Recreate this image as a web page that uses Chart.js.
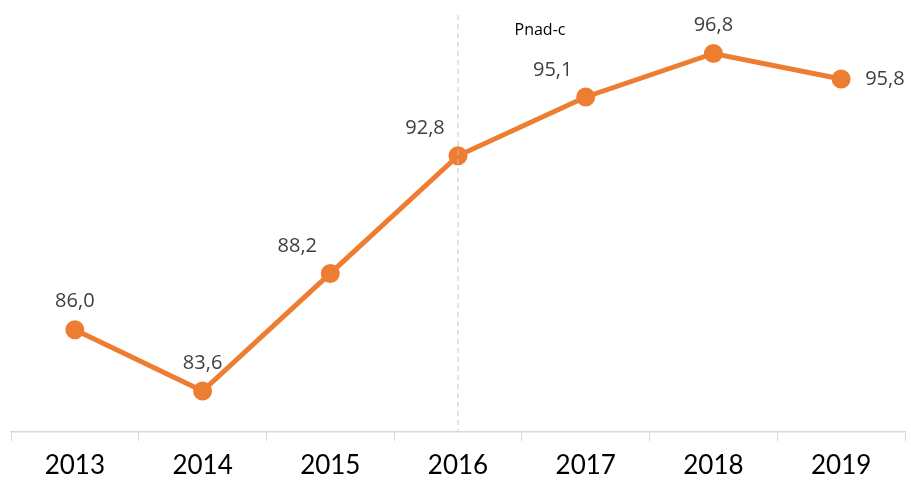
<!DOCTYPE html>
<html>
<head>
<meta charset="utf-8">
<script src="https://cdn.jsdelivr.net/npm/chart.js@4"></script>
<style>
  html, body { margin: 0; padding: 0; background: #fff; }
  #wrap { width: 911px; height: 486px; }
</style>
</head>
<body>
<div id="wrap"><canvas id="chart"></canvas></div>
<script>
// Data
const years = ["2013", "2014", "2015", "2016", "2017", "2018", "2019"];
const values = [86.0, 83.6, 88.2, 92.8, 95.1, 96.8, 95.8];
const labelSide = ["top", "top", "left", "left", "left", "top", "right"];
const breakIndex = 3;
const breakLabel = "Pnad-c";

const orange = "#ED7D31";

// Value labels + dashed break line
const annotate = {
  id: "annotate",
  afterDatasetsDraw(chart) {
    const c = chart.ctx;
    const x = chart.scales.x;
    const area = chart.chartArea;

    // dashed line at the series break
    const bx = x.getPixelForValue(breakIndex);
    c.save();
    c.strokeStyle = "#c8c8c8";
    c.lineWidth = 1;
    c.setLineDash([5, 4]);
    c.beginPath();
    c.moveTo(bx, 15);
    c.lineTo(bx, area.bottom);
    c.stroke();
    c.restore();

    c.save();
    c.fillStyle = "#000";
    c.font = "16px 'Open Sans', sans-serif";
    c.textAlign = "center";
    c.textBaseline = "middle";
    c.fillText(breakLabel, 540, 30);
    c.restore();

    // point labels
    const meta = chart.getDatasetMeta(0);
    c.save();
    c.fillStyle = "#404040";
    c.font = "20px 'Open Sans', sans-serif";
    c.textBaseline = "middle";
    meta.data.forEach((pt, i) => {
      const txt = values[i].toFixed(1).replace(".", ",");
      let tx = pt.x, ty = pt.y;
      if (labelSide[i] === "top") { c.textAlign = "center"; ty = pt.y - 28; }
      if (labelSide[i] === "left") { c.textAlign = "center"; tx = pt.x - 33; ty = pt.y - 27; }
      if (labelSide[i] === "right") { c.textAlign = "left"; tx = pt.x + 24; }
      c.fillText(txt, tx, ty);
    });
    c.restore();
  }
};

new Chart(document.getElementById("chart"), {
  type: "line",
  data: {
    labels: years,
    datasets: [{
      data: values,
      borderColor: orange,
      backgroundColor: orange,
      borderWidth: 5,
      pointRadius: 7,
      pointHoverRadius: 7,
      tension: 0
    }]
  },
  options: {
    responsive: true,
    maintainAspectRatio: false,
    animation: false,
    layout: { autoPadding: false, padding: { left: 11, right: 6, top: 10, bottom: 0 } },
    plugins: { legend: { display: false }, tooltip: { enabled: false } },
    scales: {
      x: {
        offset: true,
        afterFit(scale) {
          scale.paddingLeft = 0;
          scale.paddingRight = 0;
          scale.height = 54;
        },
        grid: {
          offset: true,
          drawOnChartArea: false,
          drawTicks: true,
          tickLength: 9,
          color: "#d9d9d9"
        },
        border: { color: "#d9d9d9", width: 1.5 },
        ticks: {
          color: "#000",
          padding: 9,
          font: { family: "Lato, sans-serif", size: 26 }
        }
      },
      y: {
        display: false,
        min: 82,
        max: 98.5
      }
    }
  },
  plugins: [annotate]
});
</script>
</body>
</html>
